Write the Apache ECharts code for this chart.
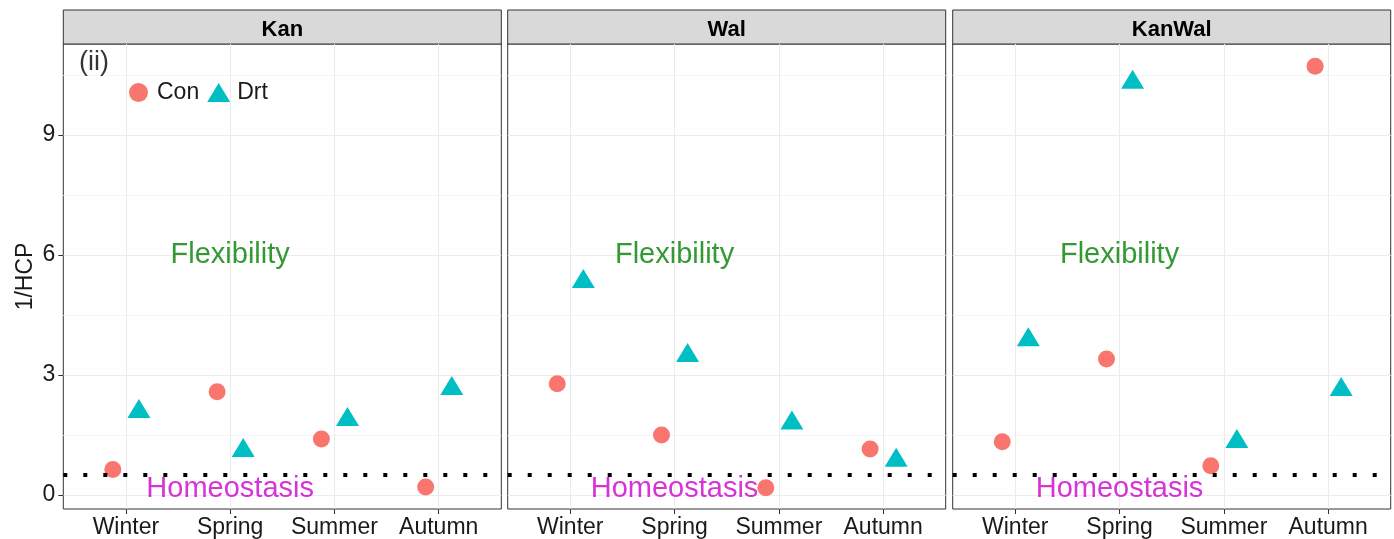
<!DOCTYPE html>
<html lang="en">
<head>
<meta charset="UTF-8">
<title>1/HCP by season</title>
<script src="https://cdn.jsdelivr.net/npm/echarts@6/dist/echarts.min.js"></script>
<style>html,body{margin:0;padding:0;background:#fff;}</style>
</head>
<body>
<div id="mybox" style="width:1394px;height:539px;"></div>
<script>
// data
var seasons = ['Winter', 'Spring', 'Summer', 'Autumn'];
var panels = ['Kan', 'Wal', 'KanWal'];
var kanCon = [0.64, 2.58, 1.40, 0.20];
var kanDrt = [2.09, 1.11, 1.89, 2.66];
var walCon = [2.78, 1.50, 0.18, 1.15];
var walDrt = [5.34, 3.49, 1.80, 0.87];
var kanwalCon = [1.33, 3.40, 0.73, 10.72];
var kanwalDrt = [3.88, 10.32, 1.34, 2.64];
var yTicks = [0, 3, 6, 9];
var yMinor = [1.5, 4.5, 7.5, 10.5];
var homeostasisLevel = 0.5;

var conData = [kanCon, walCon, kanwalCon];
var drtData = [kanDrt, walDrt, kanwalDrt];
var font = 'Liberation Sans, Arial, sans-serif';
var lefts = [63.3, 507.7, 952.7];
var panelW = 438;
var dodge = 0.125;

var grids = [], xAxes = [], yAxes = [], series = [], graphics = [];

panels.forEach(function (p, k) {
    grids.push({
        left: lefts[k], top: 44, width: panelW, height: 465,
        show: true, borderColor: '#333', borderWidth: 1, backgroundColor: '#fff'
    });
    xAxes.push({
        type: 'value', gridIndex: k, min: 0.4, max: 4.6,
        axisLine: {show: false, onZero: false},
        axisTick: {show: true, customValues: [1, 2, 3, 4], length: 5, lineStyle: {color: '#333'}},
        axisLabel: {
            customValues: [1, 2, 3, 4],
            formatter: function (v) { return seasons[Math.round(v) - 1]; },
            fontSize: 23, color: '#1a1a1a', margin: 7, fontFamily: font
        },
        splitLine: {show: true, lineStyle: {color: '#ebebeb', width: 1}}
    });
    // major y
    yAxes.push({
        type: 'value', gridIndex: k, min: -0.35, max: 11.275,
        axisLine: {show: false, onZero: false},
        axisTick: {show: k === 0, customValues: yTicks, length: 5, lineStyle: {color: '#333'}},
        axisLabel: {show: k === 0, customValues: yTicks, fontSize: 23, color: '#1a1a1a', margin: 8, fontFamily: font},
        splitLine: {show: true, lineStyle: {color: '#ebebeb', width: 1}},
        name: k === 0 ? '1/HCP' : '',
        nameLocation: 'middle', nameGap: 26,
        nameTextStyle: {fontSize: 23, color: '#1a1a1a', fontFamily: font}
    });
    // minor y grid
    yAxes.push({
        type: 'value', gridIndex: k, min: -0.35, max: 11.275,
        axisLine: {show: false, onZero: false},
        axisTick: {show: false, customValues: yMinor},
        axisLabel: {show: false},
        splitLine: {show: true, lineStyle: {color: '#f4f4f4', width: 1}}
    });

    var notes = [
        {value: [2, 6], label: {formatter: 'Flexibility', color: '#007f00'}},
        {value: [2, 0.15], label: {formatter: 'Homeostasis', color: '#CD00CD'}}
    ];
    if (k === 0) {
        notes.push({value: [0.694, 10.8], label: {formatter: '(ii)', color: '#000', fontSize: 27}});
    }
    series.push({
        name: 'notes' + k, type: 'scatter', xAxisIndex: k, yAxisIndex: 2 * k,
        symbolSize: 0, silent: true, z: 1,
        label: {show: true, position: 'inside', fontSize: 29, fontFamily: font},
        data: notes,
        markLine: {
            silent: true, symbol: 'none', label: {show: false},
            lineStyle: {color: '#000', width: 4, type: [4, 16], cap: 'butt'},
            data: [{yAxis: homeostasisLevel}]
        }
    });
    series.push({
        name: 'Con', type: 'scatter', xAxisIndex: k, yAxisIndex: 2 * k,
        symbol: 'circle', symbolSize: 17, z: 3,
        itemStyle: {color: '#F8766D', opacity: 1},
        data: conData[k].map(function (v, i) { return [i + 1 - dodge, v]; })
    });
    series.push({
        name: 'Drt', type: 'scatter', xAxisIndex: k, yAxisIndex: 2 * k,
        symbol: 'triangle', symbolSize: [23, 19], symbolOffset: [0, -3], z: 3,
        itemStyle: {color: '#00BFC4', opacity: 1},
        data: drtData[k].map(function (v, i) { return [i + 1 + dodge, v]; })
    });

    // facet strip
    graphics.push({
        type: 'rect', shape: {x: lefts[k], y: 10, width: panelW, height: 34},
        style: {fill: '#d9d9d9', stroke: '#333', lineWidth: 1}
    });
    graphics.push({
        type: 'text', x: lefts[k] + panelW / 2, y: 29.5,
        style: {text: p, font: 'bold 22px Liberation Sans, Arial, sans-serif', align: 'center', verticalAlign: 'middle', fill: '#000'}
    });
});

var mychart = echarts.init(document.getElementById('mybox'));
mychart.setOption({
    animation: false,
    backgroundColor: '#fff',
    grid: grids,
    xAxis: xAxes,
    yAxis: yAxes,
    legend: {
        data: [{name: 'Con', icon: 'circle'}, {name: 'Drt', icon: 'triangle'}],
        left: 124, top: 76, padding: 5, itemWidth: 23, itemHeight: 19, itemGap: 8,
        selectedMode: false,
        textStyle: {fontSize: 23, color: '#1a1a1a', fontFamily: font, padding: [0, 0, 0, 2]}
    },
    graphic: graphics,
    series: series
});
</script>
</body>
</html>
